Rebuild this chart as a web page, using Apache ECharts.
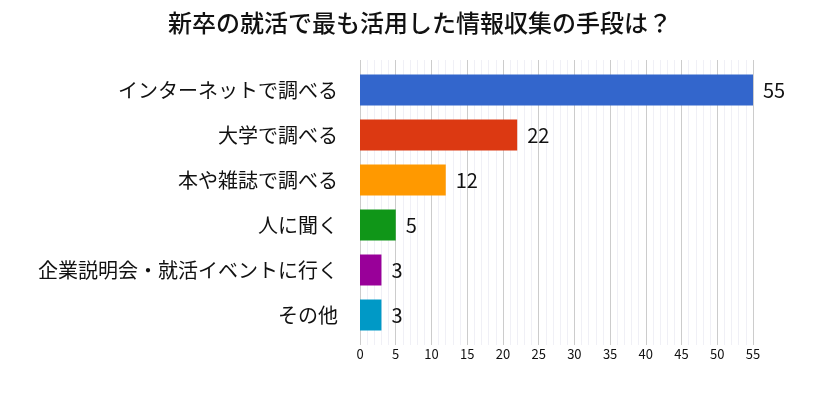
<!DOCTYPE html>
<html>
<head>
<meta charset="utf-8">
<script src="https://cdn.jsdelivr.net/npm/echarts@6/dist/echarts.min.js"></script>
<style>
  html, body { margin: 0; padding: 0; background: #fff; }
  #chart { width: 832px; height: 405px; }
</style>
</head>
<body>
<div id="chart"></div>
<script>
const titleText = "新卒の就活で最も活用した情報収集の手段は？";
const categories = [
  "インターネットで調べる",
  "大学で調べる",
  "本や雑誌で調べる",
  "人に聞く",
  "企業説明会・就活イベントに行く",
  "その他"
];
const counts = [55, 22, 12, 5, 3, 3];
const barColors = ["#3366cc", "#dc3912", "#ff9900", "#109618", "#990099", "#0099c6"];

const font = "'Noto Sans CJK JP', 'Noto Sans', sans-serif";
const chart = echarts.init(document.getElementById("chart"));

chart.setOption({
  backgroundColor: "#fff",
  textStyle: { fontFamily: font },
  title: {
    text: titleText,
    left: 415,
    textAlign: "center",
    top: 6,
    textStyle: { fontFamily: font, fontSize: 24, fontWeight: 500, color: "#111" }
  },
  grid: [
    // grid lines + tick labels
    { left: 360, width: 393, top: 60, height: 285 },
    // bars + category labels
    { left: 360, width: 393, top: 67.5, height: 270 }
  ],
  xAxis: [
    {
      gridIndex: 0, type: "value", min: 0, max: 55, interval: 5,
      axisLine: { show: false }, axisTick: { show: false },
      axisLabel: { fontSize: 13, color: "#111", margin: 3 },
      splitLine: { show: true, lineStyle: { color: "#cccccc", width: 1 } },
      minorTick: { show: false, splitNumber: 5 },
      minorSplitLine: { show: true, lineStyle: { color: "#f0f0f6", width: 1 } }
    },
    {
      gridIndex: 1, type: "value", min: 0, max: 55, show: false
    }
  ],
  yAxis: [
    { gridIndex: 0, type: "value", show: false },
    {
      gridIndex: 1, type: "category", data: categories, inverse: true,
      axisLine: { show: false }, axisTick: { show: false },
      axisLabel: { fontSize: 20, color: "#111", margin: 22 }
    }
  ],
  series: [{
    type: "bar",
    xAxisIndex: 1,
    yAxisIndex: 1,
    barWidth: 31,
    data: counts.map((v, i) => ({ value: v, itemStyle: { color: barColors[i] } })),
    label: { show: true, position: "right", distance: 10, fontSize: 20, color: "#111" }
  }]
});
</script>
</body>
</html>
